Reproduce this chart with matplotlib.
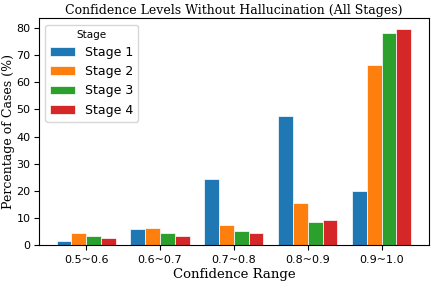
import matplotlib
matplotlib.use("Agg")
import matplotlib.pyplot as plt
import numpy as np

# Données
ranges = ["0.5~0.6", "0.6~0.7", "0.7~0.8", "0.8~0.9", "0.9~1.0"]
stages = ["Stage 1", "Stage 2", "Stage 3", "Stage 4"]
stage1 = [1.4, 5.9, 24.5, 47.5, 20.0]
stage2 = [4.3, 6.3, 7.2, 15.4, 66.3]
stage3 = [3.3, 4.4, 5.1, 8.5, 78.0]
stage4 = [2.5, 3.3, 4.6, 9.4, 79.6]
colors = ["#1f77b4", "#ff7f0e", "#2ca02c", "#d62728"]

fig, ax = plt.subplots(figsize=(4.32, 2.81), dpi=100)
x = np.arange(len(ranges))
width = 0.2
for j, (name, vals) in enumerate(zip(stages, [stage1, stage2, stage3, stage4])):
    ax.bar(x + (j - 1.5) * width, vals, width, label=name, color=colors[j],
           edgecolor="white", linewidth=0.5)

ax.set_xticks(x)
ax.set_xticklabels(ranges, fontsize=8)
ax.tick_params(axis="y", labelsize=8, pad=2.5)
ax.set_xlabel("Confidence Range", fontsize=9.5, family="DejaVu Serif", labelpad=2)
ax.set_ylabel("Percentage of Cases (%)", fontsize=9, family="DejaVu Serif", labelpad=1)
ax.set_title("Confidence Levels Without Hallucination (All Stages)", fontsize=9,
             family="DejaVu Serif", pad=3)
ax.legend(title="Stage", loc="upper left", fontsize=9, title_fontsize=7.5)

fig.subplots_adjust(left=0.09, right=0.993, bottom=0.128, top=0.935)
fig.savefig("out.png", dpi=100)
